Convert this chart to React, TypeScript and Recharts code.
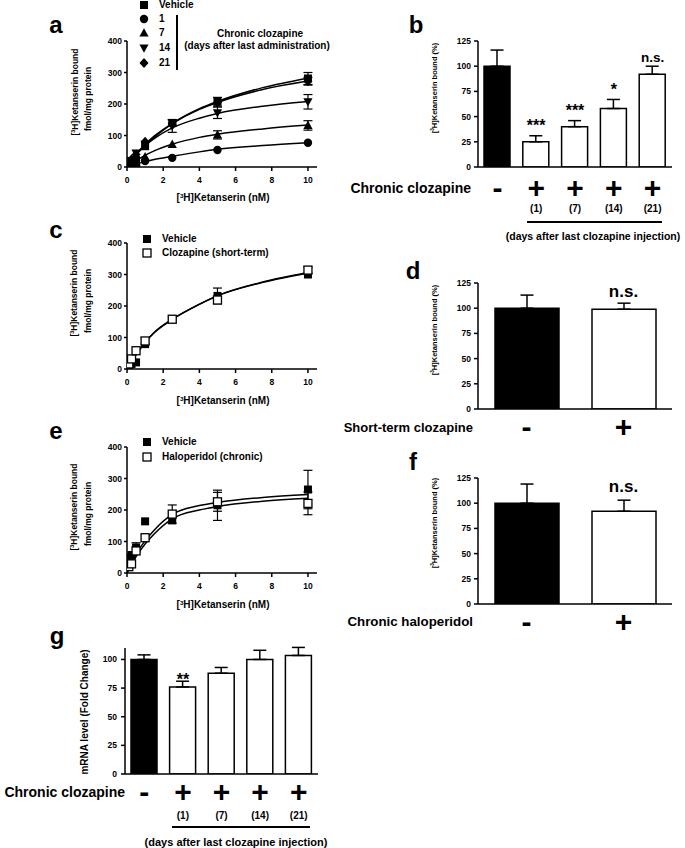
import React from 'react';
import { ComposedChart, XAxis, YAxis, Line, Scatter, ErrorBar, Bar, Cell } from 'recharts';

const FONT = '"Liberation Sans", Arial, Helvetica, sans-serif';

// ---------- Panel a: saturation binding, chronic clozapine ----------
const conc = [0.1, 0.25, 0.5, 1, 2.5, 5, 10];
const aVehicle = [6, 15, 22, 66, 140, 207, 281];
const aVehicleErr = [0, 0, 0, 0, 10, 14, 19];
const aDay1 = [2, 4, 6, 19, 29, 54, 77];
const aDay1Err = [0, 0, 0, 0, 0, 0, 0];
const aDay7 = [3, 8, 14, 32, 72, 102, 132];
const aDay7Err = [0, 0, 0, 0, 0, 13, 15];
const aDay14 = [8, 20, 44, 72, 130, 172, 207];
const aDay14Err = [0, 0, 0, 0, 20, 18, 23];
const aDay21 = [10, 25, 40, 80, 135, 205, 272];
const aDay21Err = [0, 0, 0, 0, 0, 0, 12];

const fitConc = [0, 0.5, 1, 1.5, 2.5, 4, 5, 7.5, 10];
const aVehicleFit = [0, 38, 68, 94, 138, 185, 208, 252, 282];
const aDay1Fit = [0, 9, 17, 24, 34, 48, 56, 68, 77];
const aDay7Fit = [0, 20, 37, 51, 72, 94, 104, 121, 133];
const aDay14Fit = [0, 40, 68, 90, 124, 155, 170, 193, 208];
const aDay21Fit = [0, 40, 72, 98, 138, 183, 205, 246, 273];

// ---------- Panel c: short-term clozapine ----------
const cVehicle = [10, 16, 21, 79, 158, 232, 300];
const cVehicleErr = [0, 0, 0, 0, 0, 25, 0];
const cClozapine = [16, 32, 58, 89, 158, 219, 314];
const cClozapineErr = [0, 0, 0, 10, 0, 0, 10];
const cVehicleFit = [0, 45, 84, 115, 157, 205, 232, 275, 305];
const cClozapineFit = [0, 46, 85, 116, 158, 206, 233, 276, 306];

// ---------- Panel e: chronic haloperidol ----------
const eVehicle = [50, 57, 81, 164, 167, 215, 265];
const eVehicleErr = [0, 0, 15, 0, 0, 48, 61];
const eHaloperidol = [20, 29, 70, 112, 187, 226, 221];
const eHaloperidolErr = [0, 0, 0, 0, 29, 30, 36];
const eVehicleFit = [0, 52, 92, 124, 172, 200, 211, 228, 237];
const eHaloperidolFit = [0, 60, 102, 136, 186, 214, 224, 240, 249];

// ---------- Bar panels ----------
const bKeys = ['veh', 'd1', 'd7', 'd14', 'd21'];
const bSigns = ['-', '+', '+', '+', '+'];
const bDays = ['', '(1)', '(7)', '(14)', '(21)'];
const bValues = [100, 25, 40, 58, 92];
const bErrors = [16, 6, 6, 9, 8];
const bSig = ['', '***', '***', '*', 'n.s.'];

const dKeys = ['veh', 'clz'];
const dSigns = ['-', '+'];
const dValues = [100, 99];
const dErrors = [13, 6];
const dSig = ['', 'n.s.'];

const fKeys = ['veh', 'hal'];
const fSigns = ['-', '+'];
const fValues = [100, 92];
const fErrors = [19, 11];
const fSig = ['', 'n.s.'];

const gKeys = ['veh', 'd1', 'd7', 'd14', 'd21'];
const gSigns = ['-', '+', '+', '+', '+'];
const gDays = ['', '(1)', '(7)', '(14)', '(21)'];
const gValues = [100, 76, 88, 100, 103.5];
const gErrors = [4, 5, 5, 8, 7];
const gSig = ['', '**', '', '', ''];

// ---------- helpers ----------
type Kind = 'square' | 'squareOpen' | 'circle' | 'tri' | 'triDown' | 'diamond';

function markerEl(kind: Kind, cx: number, cy: number) {
  switch (kind) {
    case 'square':
      return <rect x={cx - 4} y={cy - 4} width={8} height={8} fill="#000" />;
    case 'squareOpen':
      return <rect x={cx - 4} y={cy - 4} width={8} height={8} fill="#fff" stroke="#000" strokeWidth={1.3} />;
    case 'circle':
      return <circle cx={cx} cy={cy} r={4.2} fill="#000" />;
    case 'tri':
      return <polygon points={`${cx},${cy - 4.8} ${cx + 4.6},${cy + 3.6} ${cx - 4.6},${cy + 3.6}`} fill="#000" />;
    case 'triDown':
      return <polygon points={`${cx},${cy + 4.8} ${cx + 4.6},${cy - 3.6} ${cx - 4.6},${cy - 3.6}`} fill="#000" />;
    case 'diamond':
      return <polygon points={`${cx},${cy - 5} ${cx + 4.5},${cy} ${cx},${cy + 5} ${cx - 4.5},${cy}`} fill="#000" />;
  }
  return <g />;
}

const toPts = (xs: number[], ys: number[], es?: number[]) =>
  xs.map((x, i) => ({ x, y: ys[i], e: es ? es[i] : 0 }));

type Series = { id: string; kind: Kind; pts: { x: number; y: number; e: number }[]; fit: { x: number; y: number }[] };

const AX = { stroke: '#000', strokeWidth: 1.5 };
const TICK = { fontSize: 8.5, fontWeight: 700, fill: '#000', fontFamily: FONT };

function Txt({ x, y, size = 10, bold = true, anchor = 'middle', rotate = false, children }: any) {
  const tx = anchor === 'middle' ? '-50%' : anchor === 'end' ? '-100%' : '0';
  return (
    <div
      style={{
        position: 'absolute',
        left: x,
        top: y,
        transform: `translate(${tx},-50%)${rotate ? ' rotate(-90deg)' : ''}`,
        whiteSpace: 'nowrap',
        fontSize: size,
        fontWeight: bold ? 700 : 400,
        fontFamily: FONT,
        lineHeight: 1,
        color: '#000',
      }}
    >
      {children}
    </div>
  );
}

const H3 = () => (
  <>
    [<span style={{ fontSize: '0.62em', position: 'relative', top: '-0.55em' }}>3</span>H]
  </>
);

function LegendMarker({ x, y, kind }: { x: number; y: number; kind: Kind }) {
  return (
    <svg style={{ position: 'absolute', left: x - 7, top: y - 7 }} width={14} height={14}>
      {markerEl(kind, 7, 7)}
    </svg>
  );
}

function Line2({ x1, x2, y }: { x1: number; x2: number; y: number }) {
  return <div style={{ position: 'absolute', left: x1, top: y - 0.75, width: x2 - x1, height: 1.5, background: '#000' }} />;
}

function SatPanel({ top, series }: { top: number; series: Series[] }) {
  return (
    <div style={{ position: 'absolute', left: 60, top }}>
      <ComposedChart width={270} height={160} margin={{ top: 11, right: 13, bottom: 3, left: 0 }}>
        <XAxis
          type="number"
          dataKey="x"
          domain={[0, 10.5]}
          ticks={[0, 2, 4, 6, 8, 10]}
          allowDataOverflow
          height={20}
          tickSize={4}
          tickMargin={6}
          tick={TICK}
          axisLine={AX}
          tickLine={AX}
        />
        <YAxis
          type="number"
          dataKey="y"
          domain={[0, 400]}
          ticks={[0, 100, 200, 300, 400]}
          allowDataOverflow
          width={67}
          tickSize={3}
          tickMargin={2}
          tick={TICK}
          axisLine={AX}
          tickLine={AX}
        />
        {series.map((s) => (
          <Line
            key={'fit-' + s.id}
            data={s.fit}
            dataKey="y"
            type="monotone"
            dot={false}
            stroke="#000"
            strokeWidth={1.5}
            isAnimationActive={false}
          />
        ))}
        {series.map((s) => (
          <Scatter
            key={'err-' + s.id}
            data={s.pts.filter((p) => p.e > 0)}
            dataKey="y"
            shape={() => <g />}
            isAnimationActive={false}
          >
            <ErrorBar dataKey="e" direction="y" width={4.5} stroke="#000" strokeWidth={1.2} />
          </Scatter>
        ))}
        {series.map((s) => (
          <Scatter
            key={'pts-' + s.id}
            data={s.pts}
            dataKey="y"
            shape={(p: any) => markerEl(s.kind, p.cx, p.cy)}
            isAnimationActive={false}
          />
        ))}
      </ComposedChart>
    </div>
  );
}

function BarPanel({
  left, top, width, yWidth, keys, values, errors, sig, signs, subs, barSize, max, ticks,
  signDy, starSize, starDy, nsSize, nsDy, tickSize, tickMargin,
}: any) {
  const rows = keys.map((k: string, i: number) => ({
    key: k,
    v: values[i],
    eRange: [0, errors[i]],
    sigY: values[i] + errors[i],
    sig: sig[i],
  }));
  const catTick = (props: any) => {
    const { x, y } = props;
    const idx = props.payload?.index ?? props.index;
    return (
      <g>
        <text x={x} y={y + signDy} textAnchor="middle" fontSize={30} fontWeight={700} fontFamily={FONT} fill="#000">
          {signs[idx]}
        </text>
        {subs && subs[idx] ? (
          <text x={x} y={y + 44.5} textAnchor="middle" fontSize={10} fontWeight={700} fontFamily={FONT} fill="#000">
            {subs[idx]}
          </text>
        ) : null}
      </g>
    );
  };
  const sigShape = (p: any) => {
    const s = p.payload?.sig;
    if (!s) return <g />;
    const isNs = s === 'n.s.';
    return (
      <text
        x={p.cx}
        y={p.cy + (isNs ? nsDy : starDy)}
        textAnchor="middle"
        fontSize={isNs ? nsSize : starSize}
        fontWeight={700}
        fontFamily={FONT}
        fill="#000"
      >
        {s}
      </text>
    );
  };
  return (
    <div style={{ position: 'absolute', left, top }}>
      <ComposedChart width={width} height={192} data={rows} margin={{ top: 11, right: 13, bottom: 0, left: 0 }}>
        <XAxis
          dataKey="key"
          type="category"
          height={55}
          tickLine={false}
          tickSize={0}
          tickMargin={0}
          axisLine={AX}
          interval={0}
          tick={catTick}
        />
        <YAxis
          type="number"
          domain={[0, max]}
          ticks={ticks}
          allowDataOverflow
          width={yWidth}
          tickSize={tickSize}
          tickMargin={tickMargin}
          tick={TICK}
          axisLine={AX}
          tickLine={AX}
        />
        <Bar dataKey="v" barSize={barSize} stroke="#000" strokeWidth={1.5} isAnimationActive={false}>
          {rows.map((r: any, i: number) => (
            <Cell key={r.key} fill={i === 0 ? '#000' : '#fff'} />
          ))}
          <ErrorBar dataKey="eRange" direction="y" width={6.5} stroke="#000" strokeWidth={1.5} />
        </Bar>
        <Scatter dataKey="sigY" shape={sigShape} isAnimationActive={false} />
      </ComposedChart>
    </div>
  );
}

const aSeries: Series[] = [
  { id: 'veh', kind: 'square', pts: toPts(conc, aVehicle, aVehicleErr), fit: toPts(fitConc, aVehicleFit) },
  { id: 'd1', kind: 'circle', pts: toPts(conc, aDay1, aDay1Err), fit: toPts(fitConc, aDay1Fit) },
  { id: 'd7', kind: 'tri', pts: toPts(conc, aDay7, aDay7Err), fit: toPts(fitConc, aDay7Fit) },
  { id: 'd14', kind: 'triDown', pts: toPts(conc, aDay14, aDay14Err), fit: toPts(fitConc, aDay14Fit) },
  { id: 'd21', kind: 'diamond', pts: toPts(conc, aDay21, aDay21Err), fit: toPts(fitConc, aDay21Fit) },
];

const cSeries: Series[] = [
  { id: 'veh', kind: 'square', pts: toPts(conc, cVehicle, cVehicleErr), fit: toPts(fitConc, cVehicleFit) },
  { id: 'clz', kind: 'squareOpen', pts: toPts(conc, cClozapine, cClozapineErr), fit: toPts(fitConc, cClozapineFit) },
];

const eSeries: Series[] = [
  { id: 'veh', kind: 'square', pts: toPts(conc, eVehicle, eVehicleErr), fit: toPts(fitConc, eVehicleFit) },
  { id: 'hal', kind: 'squareOpen', pts: toPts(conc, eHaloperidol, eHaloperidolErr), fit: toPts(fitConc, eHaloperidolFit) },
];

export default function App() {
  return (
    <div style={{ position: 'absolute', left: 0, top: 0, width: 685, height: 848, background: '#fff', overflow: 'hidden' }}>
      {/* ---------- Panel a ---------- */}
      <SatPanel top={30} series={aSeries} />
      <Txt x={56} y={25} size={24}>a</Txt>
      <LegendMarker x={144} y={5} kind="square" />
      <LegendMarker x={144} y={19} kind="circle" />
      <LegendMarker x={144} y={33} kind="tri" />
      <LegendMarker x={144} y={48} kind="triDown" />
      <LegendMarker x={144} y={63} kind="diamond" />
      <Txt x={159} y={5} anchor="start">Vehicle</Txt>
      <Txt x={159} y={19} anchor="start">1</Txt>
      <Txt x={159} y={33} anchor="start">7</Txt>
      <Txt x={159} y={48} anchor="start">14</Txt>
      <Txt x={159} y={63} anchor="start">21</Txt>
      <div style={{ position: 'absolute', left: 176, top: 15, width: 1.5, height: 55, background: '#000' }} />
      <Txt x={260} y={34}>Chronic clozapine</Txt>
      <Txt x={257} y={46}>(days after last administration)</Txt>
      <Txt x={75} y={92} size={8.5} rotate><H3 />Ketanserin bound</Txt>
      <Txt x={88} y={99} size={8.5} rotate>fmol/mg protein</Txt>
      <Txt x={223} y={198}><H3 />Ketanserin (nM)</Txt>

      {/* ---------- Panel b ---------- */}
      <BarPanel
        left={400} top={30} width={285} yWidth={78}
        keys={bKeys} values={bValues} errors={bErrors} sig={bSig} signs={bSigns} subs={bDays}
        barSize={26} max={125} ticks={[0, 25, 50, 75, 100, 125]}
        signDy={31} starSize={16} starDy={-4.3} nsSize={13.5} nsDy={-4.7} tickSize={4} tickMargin={3}
      />
      <Txt x={416} y={25} size={24}>b</Txt>
      <Txt x={435} y={88} size={7.5} rotate><H3 />Ketanserin bound (%)</Txt>
      <Txt x={471} y={188} size={14} anchor="end">Chronic clozapine</Txt>
      <Line2 x1={527} x2={662} y={222} />
      <Txt x={593} y={236} size={10.5}>(days after last clozapine injection)</Txt>

      {/* ---------- Panel c ---------- */}
      <SatPanel top={232} series={cSeries} />
      <Txt x={56} y={230} size={24}>c</Txt>
      <LegendMarker x={147} y={239} kind="square" />
      <LegendMarker x={147} y={253} kind="squareOpen" />
      <Txt x={162} y={239} anchor="start">Vehicle</Txt>
      <Txt x={162} y={253} anchor="start">Clozapine (short-term)</Txt>
      <Txt x={74} y={293} size={8.5} rotate><H3 />Ketanserin bound</Txt>
      <Txt x={88} y={301} size={8.5} rotate>fmol/mg protein</Txt>
      <Txt x={223} y={401}><H3 />Ketanserin (nM)</Txt>

      {/* ---------- Panel d ---------- */}
      <BarPanel
        left={400} top={272} width={285} yWidth={78}
        keys={dKeys} values={dValues} errors={dErrors} sig={dSig} signs={dSigns}
        barSize={64} max={125} ticks={[0, 25, 50, 75, 100, 125]}
        signDy={28} starSize={16} starDy={-4} nsSize={17} nsDy={-5.8} tickSize={4} tickMargin={3}
      />
      <Txt x={413} y={271} size={24}>d</Txt>
      <Txt x={435} y={330} size={7.5} rotate><H3 />Ketanserin bound (%)</Txt>
      <Txt x={473} y={427} size={13} anchor="end">Short-term clozapine</Txt>

      {/* ---------- Panel e ---------- */}
      <SatPanel top={436} series={eSeries} />
      <Txt x={56} y={431} size={24}>e</Txt>
      <LegendMarker x={147} y={442} kind="square" />
      <LegendMarker x={147} y={457} kind="squareOpen" />
      <Txt x={162} y={442} anchor="start">Vehicle</Txt>
      <Txt x={162} y={457} anchor="start">Haloperidol (chronic)</Txt>
      <Txt x={74} y={507} size={8.5} rotate><H3 />Ketanserin bound</Txt>
      <Txt x={88} y={514} size={8.5} rotate>fmol/mg protein</Txt>
      <Txt x={223} y={605}><H3 />Ketanserin (nM)</Txt>

      {/* ---------- Panel f ---------- */}
      <BarPanel
        left={400} top={467} width={285} yWidth={78}
        keys={fKeys} values={fValues} errors={fErrors} sig={fSig} signs={fSigns}
        barSize={64} max={125} ticks={[0, 25, 50, 75, 100, 125]}
        signDy={28} starSize={16} starDy={-4} nsSize={17} nsDy={-8.3} tickSize={4} tickMargin={3}
      />
      <Txt x={413} y={462} size={24}>f</Txt>
      <Txt x={435} y={523} size={7.5} rotate><H3 />Ketanserin bound (%)</Txt>
      <Txt x={473} y={622} size={13.3} anchor="end">Chronic haloperidol</Txt>

      {/* ---------- Panel g ---------- */}
      <BarPanel
        left={40} top={637} width={291} yWidth={85}
        keys={gKeys} values={gValues} errors={gErrors} sig={gSig} signs={gSigns} subs={gDays}
        barSize={26} max={110} ticks={[0, 25, 50, 75, 100]}
        signDy={28} starSize={16} starDy={3.5} nsSize={14} nsDy={-5} tickSize={4} tickMargin={4}
      />
      <Txt x={57} y={636} size={24}>g</Txt>
      <Txt x={85} y={712} size={10} rotate>mRNA level (Fold Change)</Txt>
      <Txt x={125} y={792} size={14} anchor="end">Chronic clozapine</Txt>
      <Line2 x1={172} x2={310} y={827} />
      <Txt x={236} y={842} size={11}>(days after last clozapine injection)</Txt>
    </div>
  );
}
